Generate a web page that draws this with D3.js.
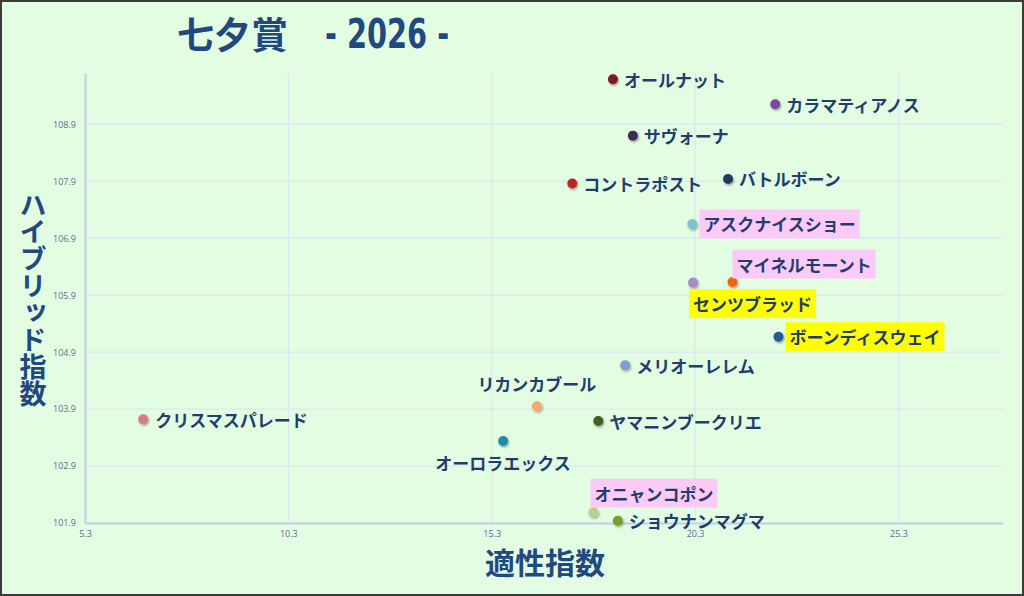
<!DOCTYPE html>
<html><head><meta charset="utf-8">
<script src="https://cdn.jsdelivr.net/npm/d3@7"></script>
<style>
html,body{margin:0;padding:0;background:#e3fde3;}
svg{display:block;}
</style></head>
<body>
<svg id="chart" width="1024" height="596"></svg>
<script>
// ---- data ----
const horseNames = ["オールナット","カラマティアノス","サヴォーナ","コントラポスト","バトルボーン","アスクナイスショー","マイネルモーント","センツブラッド","ボーンディスウェイ","メリオーレレム","リカンカブール","ヤマニンブークリエ","クリスマスパレード","オーロラエックス","オニャンコポン","ショウナンマグマ"];
const aptitude = [18.28,22.27,18.77,17.28,21.11,20.23,21.22,20.25,22.35,18.58,16.41,17.92,6.73,15.58,17.80,18.40];
const hybrid   = [109.69,109.25,108.70,107.86,107.94,107.15,106.13,106.12,105.17,104.67,103.95,103.69,103.72,103.34,102.09,101.94];
const xTicks = [5.3,10.3,15.3,20.3,25.3];
const yTicks = [101.9,102.9,103.9,104.9,105.9,106.9,107.9,108.9];
const titleMain = "七夕賞";
const titleYear = "- 2026 -";
const xTitle = "適性指数";
const yTitle = "ハイブリッド指数";

// ---- styles ----
const dotColors = ["#7a1c1e","#7b4a9b","#42295a","#b8282a","#1f3a62","#7ec4cf","#f0650e","#a88cc2","#285a98","#7f9fd2","#f6aa6c","#4b5f1b","#d97b82","#1f8bab","#bcd08c","#7b9b2b"];
// label placement: [dx, dy, anchor, highlight]
const labelStyle = [
  [11,0,"start",null],[11,0,"start",null],[11,0,"start",null],[11,0,"start",null],
  [11,0,"start",null],[11,0,"start","#fccaf6"],[4,-18,"start","#fccaf6"],[0,21,"start","#ffff00"],
  [11,0,"start","#ffff00"],[11,0,"start",null],[0,-23,"middle",null],[11,0,"start",null],
  [12,0,"start",null],[0,22,"middle",null],[1,-19,"start","#fccaf6"],[11,0,"start",null]
];

const svg = d3.select("#chart");
const W = 1024, H = 596;
svg.append("rect").attr("x",1).attr("y",1).attr("width",W-2).attr("height",H-2)
  .attr("fill","#e3fde3").attr("stroke","#3a3a3a").attr("stroke-width",2);

const m = {left:85, right:1003, top:73, bottom:523};
const x = d3.scaleLinear().domain([5.3, 27.87]).range([m.left, m.right]);
const y = d3.scaleLinear().domain([101.9, 109.8]).range([m.bottom, m.top]);

const defs = svg.append("defs");
const f = defs.append("filter").attr("id","sh").attr("x","-50%").attr("y","-50%").attr("width","200%").attr("height","200%");
f.append("feDropShadow").attr("dx",1).attr("dy",1.5).attr("stdDeviation",1.2).attr("flood-color","#000").attr("flood-opacity",0.35);

// gridlines
svg.append("g").selectAll("line").data(yTicks.slice(1)).join("line")
  .attr("x1",m.left).attr("x2",m.right).attr("y1",d=>y(d)).attr("y2",d=>y(d))
  .attr("stroke","#d9e2f3").attr("stroke-width",1);
svg.append("g").selectAll("line").data(xTicks.slice(1)).join("line")
  .attr("y1",m.top).attr("y2",m.bottom).attr("x1",d=>x(d)).attr("x2",d=>x(d))
  .attr("stroke","#d9e2f3").attr("stroke-width",1);

// axes
const xAxis = svg.append("g").attr("transform",`translate(0,${m.bottom})`)
  .call(d3.axisBottom(x).tickValues(xTicks).tickFormat(d3.format(".1f")).tickSize(0).tickPadding(8));
const yAxis = svg.append("g").attr("transform",`translate(${m.left},0)`)
  .call(d3.axisLeft(y).tickValues(yTicks).tickFormat(d3.format(".1f")).tickSize(0).tickPadding(9));
[xAxis,yAxis].forEach(g=>{
  g.select(".domain").attr("stroke","#bcd0e8").attr("stroke-width",2);
  g.selectAll("text").attr("fill","#5b6e8e").attr("font-family","Open Sans, sans-serif").attr("font-size",9);
});

// title
svg.append("text").attr("x",177).attr("y",49).attr("fill","#22497f")
  .attr("font-family","Noto Sans CJK JP").attr("font-weight","bold").attr("font-size",37).text(titleMain);
svg.append("text").attr("transform","translate(325,48) scale(0.72,1)").attr("fill","#22497f")
  .attr("font-family","DejaVu Sans").attr("font-weight","bold").attr("font-size",40)
  .attr("xml:space","preserve").style("white-space","pre").text(titleYear);

// axis titles
svg.append("text").attr("x",545).attr("y",574).attr("text-anchor","middle")
  .attr("fill","#22497f").attr("font-family","Noto Sans CJK JP").attr("font-weight","bold").attr("font-size",30).text(xTitle);
svg.append("text").attr("x",33).attr("y",191)
  .style("writing-mode","vertical-rl").style("text-orientation","upright")
  .attr("fill","#22497f").attr("font-family","Noto Sans CJK JP")
  .attr("font-weight","bold").attr("font-size",27).text(yTitle);

// points
const idx = d3.range(horseNames.length);
svg.append("g").selectAll("circle").data(idx).join("circle")
  .attr("cx",i=>x(aptitude[i])).attr("cy",i=>y(hybrid[i])).attr("r",5)
  .attr("fill",i=>dotColors[i]).attr("filter","url(#sh)");

// labels
const lg = svg.append("g");
idx.forEach(i=>{
  const [dx,dy,anchor,hl] = labelStyle[i];
  const g = lg.append("g");
  const tx = g.append("text").attr("x",x(aptitude[i])+dx).attr("y",y(hybrid[i])+dy)
    .attr("dominant-baseline","central").attr("text-anchor",anchor)
    .attr("fill","#1f3d6d").attr("font-family","Noto Sans CJK JP").attr("font-weight","bold").attr("font-size",17)
    .text(horseNames[i]);
  if(hl){
    const b = tx.node().getBBox();
    g.insert("rect","text").attr("x",b.x-4).attr("y",y(hybrid[i])+dy-14.5).attr("width",b.width+8).attr("height",29).attr("fill",hl);
  }
});
</script>
</body></html>
